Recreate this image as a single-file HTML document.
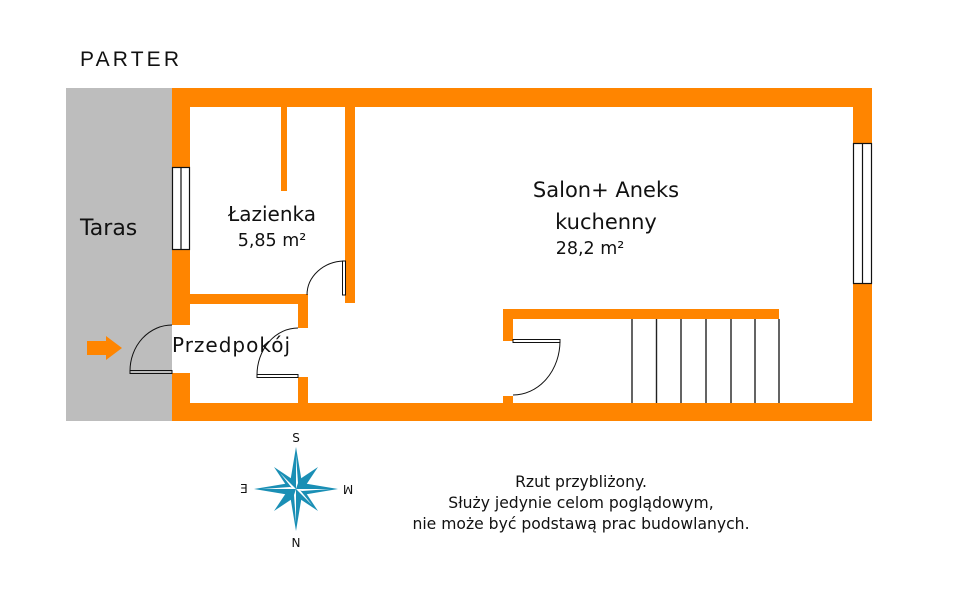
<!DOCTYPE html>
<html><head><meta charset="utf-8"><style>
html,body{margin:0;padding:0;background:#fff}
svg{display:block}
text{font-family:"DejaVu Sans","Liberation Sans",sans-serif;fill:#111}
</style></head><body>
<svg width="971" height="616" viewBox="0 0 971 616" xmlns="http://www.w3.org/2000/svg">
<text x="80" y="66" font-size="21" style="font-family:'Liberation Sans',sans-serif;font-weight:300" letter-spacing="3" fill="#222" textLength="102">PARTER</text>
<rect x="66" y="88" width="106" height="333" fill="#bdbdbd"/>
<g fill="#ff8500">
<rect x="172" y="88" width="700" height="19"/>
<rect x="172" y="403" width="700" height="18"/>
<rect x="172" y="88" width="18" height="237"/>
<rect x="172" y="373" width="18" height="48"/>
<rect x="853" y="88" width="19" height="333"/>
<rect x="190" y="294" width="118" height="10"/>
<rect x="298" y="294" width="10" height="34"/>
<rect x="298" y="377" width="10" height="26"/>
<rect x="345" y="107" width="10" height="196"/>
<rect x="281" y="107" width="6" height="84"/>
<rect x="503" y="309" width="276" height="10"/>
<rect x="503" y="309" width="10" height="32"/>
<rect x="503" y="396" width="10" height="7"/>
<polygon points="87,341 106,341 106,336 122,348 106,360 106,355 87,355"/>
</g>
<g fill="#fff" stroke="#111" stroke-width="1.2">
<rect x="172.5" y="167.5" width="17" height="82"/>
<line x1="181" y1="167" x2="181" y2="249"/>
<rect x="853.5" y="143.5" width="18" height="140"/>
<line x1="862.5" y1="143" x2="862.5" y2="283"/>
</g>
<g fill="none" stroke="#111" stroke-width="1">
<rect x="130" y="370.5" width="42" height="3"/>
<path d="M130,371 A42,46 0 0 1 172,325"/>
<rect x="257" y="374.5" width="41" height="3"/>
<path d="M257,375 A41,47 0 0 1 298,328"/>
<rect x="342.5" y="261" width="3" height="34"/>
<path d="M344,261 A38,34 0 0 0 307,295"/>
<rect x="513" y="339.5" width="47" height="3"/>
<path d="M560,341 A47,54 0 0 1 513,395"/>
</g>
<g stroke="#222" stroke-width="1.4">
<line x1="632" y1="319" x2="632" y2="403"/>
<line x1="656.5" y1="319" x2="656.5" y2="403"/>
<line x1="681" y1="319" x2="681" y2="403"/>
<line x1="706" y1="319" x2="706" y2="403"/>
<line x1="731" y1="319" x2="731" y2="403"/>
<line x1="755" y1="319" x2="755" y2="403"/>
<line x1="779" y1="319" x2="779" y2="403"/>
</g>
<text x="80" y="235" font-size="22">Taras</text>
<text x="272" y="221" font-size="20" text-anchor="middle">Łazienka</text>
<text x="272" y="246" font-size="17.5" text-anchor="middle">5,85 m²</text>
<text x="606" y="197" font-size="21" text-anchor="middle">Salon+ Aneks</text>
<text x="606" y="229" font-size="21" text-anchor="middle">kuchenny</text>
<text x="590" y="254" font-size="17.5" text-anchor="middle">28,2 m²</text>
<text x="172" y="352" font-size="20" textLength="118">Przedpokój</text>
<g font-size="15.6" text-anchor="middle">
<text x="581" y="487">Rzut przybliżony.</text>
<text x="581" y="508">Służy jedynie celom poglądowym,</text>
<text x="581" y="529">nie może być podstawą prac budowlanych.</text>
</g>
<g transform="translate(296,489)">
<g fill="#1a8fb5">
<polygon points="0,-42 6,-6 0,0 -6,-6"/>
<polygon points="0,42 6,6 0,0 -6,6"/>
<polygon points="-42,0 -6,-6 0,0 -6,6"/>
<polygon points="42,0 6,-6 0,0 6,6"/>
<polygon points="-22,-22 2,-6 0,0 -6,2"/>
<polygon points="22,-22 6,2 0,0 -2,-6"/>
<polygon points="22,22 -2,6 0,0 6,-2"/>
<polygon points="-22,22 -6,-2 0,0 2,6"/>
</g>
<g fill="#fff">
<polygon points="0,-34 2,-6 0,0"/>
<polygon points="0,34 -2,6 0,0"/>
<polygon points="-34,0 -6,-2 0,0"/>
<polygon points="34,0 6,2 0,0"/>
<polygon points="-16,-16 -4,-1 0,0"/>
<polygon points="16,16 4,1 0,0"/>
</g>
<text x="0" y="-47" font-size="12" text-anchor="middle">S</text>
<text x="0" y="58" font-size="12" text-anchor="middle">N</text>
<text x="52" y="4" font-size="12" text-anchor="middle" transform="rotate(180 52 0)">M</text>
<text x="-52" y="4" font-size="12" text-anchor="middle" transform="scale(-1,1) translate(104,0)">E</text>
</g>
</svg>
</body></html>
